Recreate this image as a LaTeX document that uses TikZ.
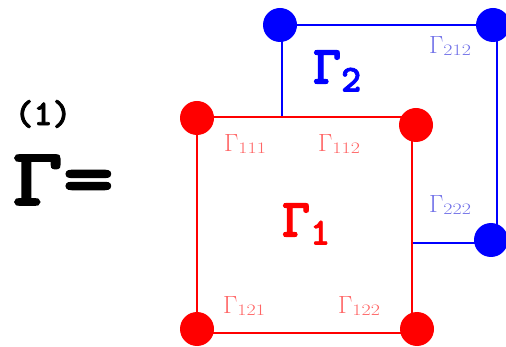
\documentclass[tikz,border=0pt]{standalone}
\usepackage{fontspec}
\usetikzlibrary{positioning}
\newfontfamily\gamfont{lmmonolt10-bold.otf}[FakeBold=2]
\definecolor{cred}{HTML}{FF0000}
\definecolor{cblue}{HTML}{0000FF}
\definecolor{lred}{HTML}{FF6464}
\definecolor{lblue}{HTML}{7070E8}
\newcommand{\gsub}[1]{$\Gamma$\raisebox{-2pt}{\scalebox{1.25}[1]{\fontsize{16}{16}\selectfont #1}}}

\begin{document}
\begin{tikzpicture}[x=1pt,y=-1pt]
\tikzset{
  dotr/.style={cred},
  dotb/.style={cblue},
  sublab/.style={font=\fontsize{26}{26}\selectfont,inner sep=0pt},
  biglab/.style={font=\gamfont\fontsize{54}{54}\selectfont,inner sep=0pt},
}
\useasboundingbox (0,0) rectangle (506,347);
% corners of the two squares
\coordinate (r1) at (197,118);
\coordinate (r2) at (416,125);
\coordinate (r3) at (197,329);
\coordinate (r4) at (417,329);
\coordinate (b1) at (280,25);
\coordinate (b2) at (493,25);
\coordinate (b4) at (491,240);
% blue square, partly behind the red one
\draw[cblue,line width=1.6pt] (282,118) -- (282,25) -- (493,25);
\draw[cblue,line width=1.6pt] (497,25) -- (497,240);
\draw[cblue,line width=1.6pt] (412,243) -- (491,243);
% red square
\draw[cred,line width=1.6pt] (197,117) rectangle (412,333);
\foreach \c in {r1,r2,r3,r4} \fill[dotr] (\c) circle (17);
\foreach \c in {b1,b2,b4} \fill[dotb] (\c) circle (17);
% labels
\node[inner sep=0pt] (one) at (43,114) {\gamfont\fontsize{36}{36}\selectfont(1)};
\node[inner sep=0pt,xscale=1.18] (gam) at (63,180) {\gamfont\fontsize{82}{82}\selectfont\symbol{"0393}=};
\node[cred,biglab] (g1) at (306,224) {\symbol{"0393}\raisebox{-8pt}{\fontsize{38}{38}\selectfont 1}};
\node[cblue,biglab] (g2) at (337,71) {\symbol{"0393}\raisebox{-8pt}{\fontsize{38}{38}\selectfont 2}};
\node[lred,sublab] (g111) at (245,144) {\gsub{111}};
\node[lred,sublab] (g112) at (339,144) {\gsub{112}};
\node[lred,sublab] (g121) at (244,306) {\gsub{121}};
\node[lred,sublab] (g122) at (359,306) {\gsub{122}};
\node[lblue,sublab] (g212) at (450,46) {\gsub{212}};
\node[lblue,sublab] (g222) at (450,205) {\gsub{222}};
\end{tikzpicture}
\end{document}
